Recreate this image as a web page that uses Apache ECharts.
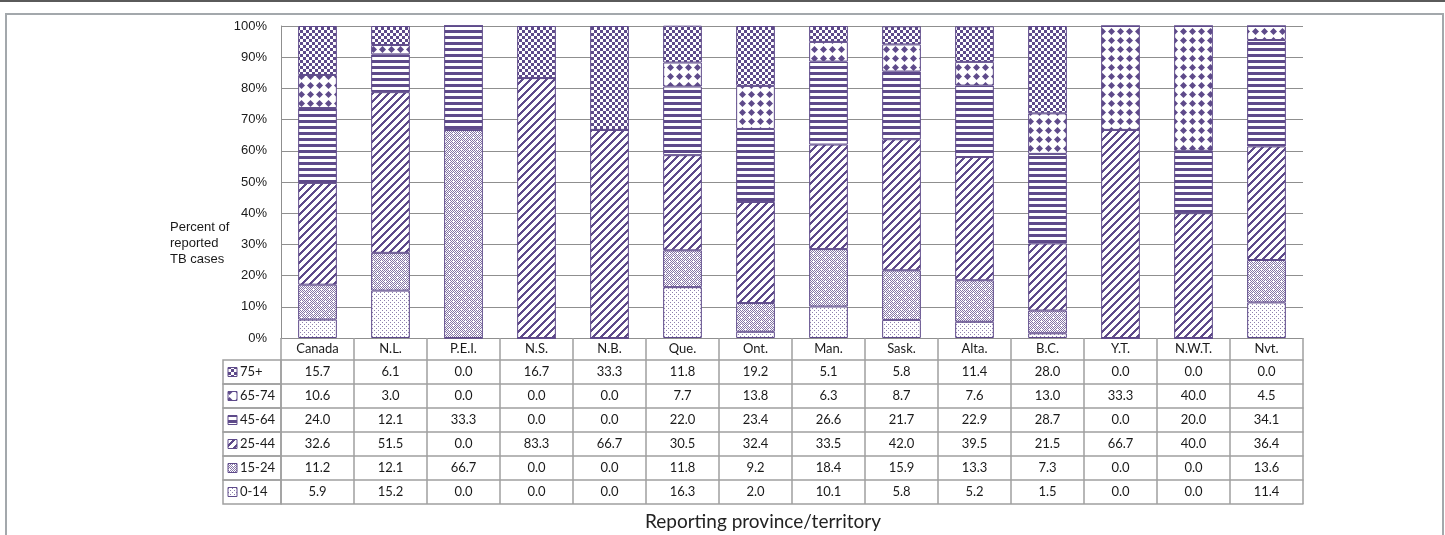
<!DOCTYPE html>
<html>
<head>
<meta charset="utf-8">
<title>Reported TB cases by age group and province/territory</title>
<script src="https://cdn.jsdelivr.net/npm/echarts@6/dist/echarts.min.js"></script>
<style>
  html, body { margin: 0; padding: 0; background: #ffffff; }
  #chart { width: 1445px; height: 535px; }
</style>
</head>
<body>
<div id="chart"></div>
<script>
// ---- data ----
const categories = ['Canada', 'N.L.', 'P.E.I.', 'N.S.', 'N.B.', 'Que.', 'Ont.', 'Man.', 'Sask.', 'Alta.', 'B.C.', 'Y.T.', 'N.W.T.', 'Nvt.'];

const age75plus = [15.7, 6.1, 0.0, 16.7, 33.3, 11.8, 19.2, 5.1, 5.8, 11.4, 28.0, 0.0, 0.0, 0.0];
const age65to74 = [10.6, 3.0, 0.0, 0.0, 0.0, 7.7, 13.8, 6.3, 8.7, 7.6, 13.0, 33.3, 40.0, 4.5];
const age45to64 = [24.0, 12.1, 33.3, 0.0, 0.0, 22.0, 23.4, 26.6, 21.7, 22.9, 28.7, 0.0, 20.0, 34.1];
const age25to44 = [32.6, 51.5, 0.0, 83.3, 66.7, 30.5, 32.4, 33.5, 42.0, 39.5, 21.5, 66.7, 40.0, 36.4];
const age15to24 = [11.2, 12.1, 66.7, 0.0, 0.0, 11.8, 9.2, 18.4, 15.9, 13.3, 7.3, 0.0, 0.0, 13.6];
const age0to14  = [5.9, 15.2, 0.0, 0.0, 0.0, 16.3, 2.0, 10.1, 5.8, 5.2, 1.5, 0.0, 0.0, 11.4];

const yTicks = { min: 0, max: 100, step: 10 };
const yAxisTitle = 'Percent of\nreported\nTB cases';
const xAxisTitle = 'Reporting province/territory';

// ---- layout & style ----
const PURPLE = '#5e4a8a';
const GRID_LINE = '#8f8f8f';
const TABLE_LINE = '#a0a0a0';
const TEXT = '#1a1a1a';
const TABLE_FONT = 'Lato, "Open Sans", sans-serif';
const AXIS_FONT = '"Liberation Sans", Arial, sans-serif';

const PLOT_LEFT = 281, PLOT_RIGHT = 1303, PLOT_TOP = 26, PLOT_BOTTOM = 338;
const HEADER_H = 22, ROW_H = 24;
const LEGEND_COL_LEFT = 223;
const W = 1445, H = 535;

// ---- fill patterns ----
function makePattern(w, h, draw) {
  const c = document.createElement('canvas');
  c.width = w; c.height = h;
  const g = c.getContext('2d');
  g.fillStyle = '#ffffff';
  g.fillRect(0, 0, w, h);
  draw(g);
  return { image: c, repeat: 'repeat' };
}

const patternFine = makePattern(4, 4, g => {
  g.fillStyle = 'rgba(94,74,138,0.7)';
  g.fillRect(0, 0, 1, 1);
  g.fillRect(2, 2, 1, 1);
});
const patternConfetti = makePattern(8, 8, g => {
  g.fillStyle = 'rgba(94,74,138,0.75)';
  for (let x = 0; x < 8; x++) for (let y = 0; y < 8; y++) if ((x + y) % 2 === 0) g.fillRect(x, y, 1, 1);
  g.fillStyle = '#ffffff';
  [[1, 1], [5, 5]].forEach(([cx, cy]) => {
    g.fillRect(cx - 1, cy, 3, 1);
    g.fillRect(cx, cy - 1, 1, 3);
  });
});
const patternDiagonal = makePattern(8, 8, g => {
  g.fillStyle = PURPLE;
  for (let x = 0; x < 8; x++) for (let y = 0; y < 8; y++) if ((x + y) % 8 < 3) g.fillRect(x, y, 1, 1);
});
const patternHorizontal = makePattern(4, 6, g => {
  g.fillStyle = PURPLE;
  g.fillRect(0, 0, 4, 3);
});
const patternDots = makePattern(9, 9, g => {
  g.fillStyle = PURPLE;
  g.beginPath();
  g.moveTo(4.5, 1); g.lineTo(8, 4.5); g.lineTo(4.5, 8); g.lineTo(1, 4.5);
  g.closePath();
  g.fill();
});
const patternChecker = makePattern(6, 6, g => {
  g.fillStyle = PURPLE;
  g.fillRect(0, 0, 3, 3);
  g.fillRect(3, 3, 3, 3);
});

// stacked from the bottom up
const seriesDefs = [
  { name: '0-14',  values: age0to14,  fill: patternFine },
  { name: '15-24', values: age15to24, fill: patternConfetti },
  { name: '25-44', values: age25to44, fill: patternDiagonal },
  { name: '45-64', values: age45to64, fill: patternHorizontal },
  { name: '65-74', values: age65to74, fill: patternDots },
  { name: '75+',   values: age75plus, fill: patternChecker }
];
// table rows run top-down
const tableRows = seriesDefs.slice().reverse();

// ---- axes: header row + one category axis per table row ----
const xAxes = [];
xAxes.push({
  type: 'category', data: categories, gridIndex: 0, position: 'bottom', offset: 0,
  axisLine: { show: true, onZero: false, lineStyle: { color: GRID_LINE, width: 1 } },
  axisTick: { show: true, interval: 0, length: HEADER_H, lineStyle: { color: TABLE_LINE, width: 1.5 } },
  axisLabel: { interval: 0, margin: 4, fontFamily: TABLE_FONT, fontSize: 13, color: TEXT },
  splitLine: { show: false }
});
tableRows.forEach((row, i) => {
  xAxes.push({
    type: 'category', data: categories, gridIndex: 0, position: 'bottom',
    offset: HEADER_H + i * ROW_H,
    axisLine: { show: true, onZero: false, lineStyle: { color: TABLE_LINE, width: 1.5 } },
    axisTick: { show: true, interval: 0, length: ROW_H, lineStyle: { color: TABLE_LINE, width: 1.5 } },
    axisLabel: {
      interval: 0, margin: 5, fontFamily: TABLE_FONT, fontSize: 13, color: TEXT,
      formatter: (v, idx) => row.values[idx].toFixed(1)
    },
    splitLine: { show: false }
  });
});
xAxes.push({
  type: 'category', data: categories, gridIndex: 0, position: 'bottom',
  offset: HEADER_H + tableRows.length * ROW_H,
  axisLine: { show: true, onZero: false, lineStyle: { color: TABLE_LINE, width: 1.5 } },
  axisTick: { show: false }, axisLabel: { show: false }, splitLine: { show: false }
});

// ---- legend column of the table ----
const legendGraphics = [];
tableRows.forEach((row, i) => {
  const top = PLOT_BOTTOM + HEADER_H + i * ROW_H;
  legendGraphics.push({
    type: 'rect', silent: true,
    shape: { x: LEGEND_COL_LEFT, y: top, width: PLOT_LEFT - LEGEND_COL_LEFT, height: ROW_H },
    style: { fill: 'none', stroke: TABLE_LINE, lineWidth: 1.5 }
  });
  legendGraphics.push({
    type: 'rect', silent: true,
    shape: { x: LEGEND_COL_LEFT + 5, y: top + ROW_H / 2 - 4.5, width: 9, height: 9 },
    style: { fill: row.fill, stroke: PURPLE, lineWidth: 1 }
  });
  legendGraphics.push({
    type: 'text', silent: true,
    style: {
      x: LEGEND_COL_LEFT + 17, y: top + ROW_H / 2, text: row.name,
      font: '13px ' + TABLE_FONT, fill: TEXT, textAlign: 'left', textVerticalAlign: 'middle'
    }
  });
});

const chart = echarts.init(document.getElementById('chart'), null, { renderer: 'canvas', width: W, height: H });

chart.setOption({
  animation: false,
  backgroundColor: '#ffffff',
  grid: { left: PLOT_LEFT, right: W - PLOT_RIGHT, top: PLOT_TOP, bottom: H - PLOT_BOTTOM, containLabel: false },
  xAxis: xAxes,
  yAxis: {
    type: 'value', min: yTicks.min, max: yTicks.max, interval: yTicks.step,
    axisLine: { show: true, lineStyle: { color: GRID_LINE, width: 1 } },
    axisTick: { show: false },
    splitLine: { show: true, lineStyle: { color: GRID_LINE, width: 1 } },
    axisLabel: { formatter: '{value}%', margin: 14, fontFamily: AXIS_FONT, fontSize: 13, color: TEXT }
  },
  series: seriesDefs.map(s => ({
    name: s.name, type: 'bar', stack: 'share', xAxisIndex: 0, yAxisIndex: 0,
    barWidth: '53%', data: s.values,
    itemStyle: { color: s.fill, borderColor: PURPLE, borderWidth: 1 },
    emphasis: { disabled: true }
  })),
  graphic: [
    { type: 'rect', silent: true, shape: { x: 0, y: 0, width: W, height: 2 }, style: { fill: '#5a5a5a' } },
    { type: 'rect', silent: true, shape: { x: 6, y: 14, width: 1437, height: 540 }, style: { fill: 'none', stroke: '#a3a8ac', lineWidth: 2 } },
    {
      type: 'text', silent: true,
      style: {
        x: 170, y: 243, text: yAxisTitle, font: '13px ' + AXIS_FONT, fill: TEXT,
        textAlign: 'left', textVerticalAlign: 'middle', lineHeight: 16
      }
    },
    {
      type: 'text', silent: true,
      style: {
        x: (LEGEND_COL_LEFT + PLOT_RIGHT) / 2, y: 522, text: xAxisTitle,
        font: '19px ' + TABLE_FONT, fill: '#222222', textAlign: 'center', textVerticalAlign: 'middle'
      }
    }
  ].concat(legendGraphics)
});
</script>
</body>
</html>
